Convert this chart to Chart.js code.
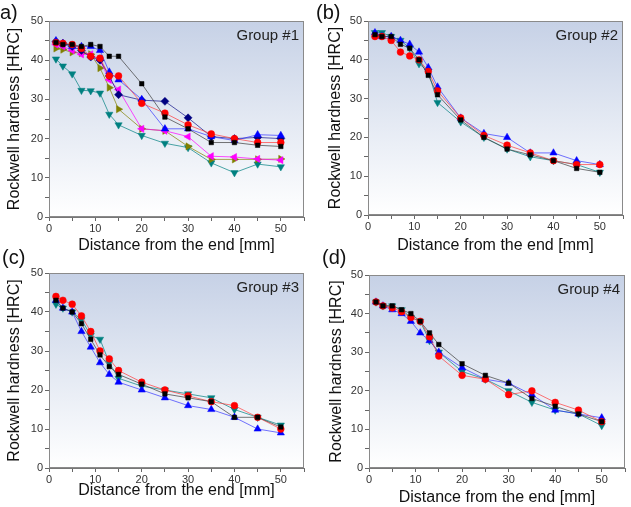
<!DOCTYPE html>
<html>
<head>
<meta charset="utf-8">
<script src="https://cdn.jsdelivr.net/npm/chart.js@4/dist/chart.umd.min.js"></script>
<style>
  body { margin: 0; background: #fff; }
  #wrap { position: relative; width: 631px; height: 507px; overflow: hidden; font-family: "Liberation Sans", Arial, sans-serif; }
  canvas { position: absolute; }
  .lbl { position: absolute; font-size: 20px; color: #111; }
</style>
</head>
<body>
<div id="wrap">
  <canvas id="ca"></canvas>
  <canvas id="cb"></canvas>
  <canvas id="cc"></canvas>
  <canvas id="cd"></canvas>
  <div class="lbl" style="left:0px;top:1px">a)</div>
  <div class="lbl" style="left:316px;top:1px">(b)</div>
  <div class="lbl" style="left:2px;top:246px">(c)</div>
  <div class="lbl" style="left:322px;top:246px">(d)</div>
</div>
<script>
// distance from the end [mm]
var dist = [1.5, 3, 5, 7, 9, 11, 13, 15, 20, 25, 30, 35, 40, 45, 50];

// Group #1
var g1Black   = [44.5, 44, 44, 43.5, 44, 43.5, 41, 41, 34, 25.5, 22.5, 19, 19, 18.3, 18];
var g1Red     = [44.5, 44.3, 44, 43, 41, 40.5, 36, 36, 29, 26.5, 23.5, 21.2, 20, 19, 19];
var g1Blue    = [45, 44.3, 43.5, 43.5, 43.5, 42.5, 37, 35, 30, 22.5, 22.5, 20.5, 19.5, 21, 20.8];
var g1Navy    = [44.8, 44.3, 43.5, 42.5, 40.8, 40, 36, 31.2, 29.8, 29.5, 25.3, 20.5, 20, 20.3, 20];
var g1Magenta = [44, 43.5, 42.5, 41.5, 41.5, 40, 35, 32.5, 22.5, 22, 20.5, 15.5, 15.3, 14.8, 14.5];
var g1Olive   = [43, 42.7, 42, 41.8, 41.5, 38, 33, 27.5, 22.5, 22, 18, 14.7, 14.7, 14.7, 14.8];
var g1Teal    = [40.3, 38.5, 36.5, 32.3, 32.2, 31.6, 26.2, 23.5, 20.8, 18.8, 17.7, 13.8, 11.3, 13.5, 12.8];

// Group #2
var g2Black = [46.5, 46, 46, 44, 43, 40, 36, 31, 24.5, 20, 17, 15.5, 14, 12, 11];
var g2Red   = [46, 46, 45, 42, 41, 40, 37, 32, 25, 20.5, 18, 16, 14, 13, 13];
var g2Blue  = [47, 46, 46, 45, 44, 42, 38, 33, 25, 21, 20, 16, 16, 14, 13];
var g2Teal  = [47, 47, 46, 45, 43, 39, 37, 29, 24, 20, 17, 15, 14, 13, 11];

// Group #3
var g3Black = [43, 41, 40, 37, 33, 29, 26, 24, 21.5, 19, 18, 17, 13, 13, 10.5];
var g3Red   = [44, 43, 42, 39, 35, 30, 28, 25, 22, 20, 18.5, 17, 16, 13, 10];
var g3Blue  = [43, 41, 40, 35, 31, 27, 24, 22, 20, 18, 16, 15, 13, 10, 9];
var g3Teal  = [42, 41, 40, 38, 34, 33, 27, 23, 21, 20, 19, 18, 15, 13, 11];

// Group #4
var g4Black = [43, 42, 42, 41, 40, 38, 35, 32, 27, 24, 22, 18, 16, 14, 12];
var g4Red   = [43, 42, 41.5, 40.5, 39, 38, 34, 29, 24, 23, 19, 20, 17, 15, 12];
var g4Blue  = [43, 42, 41, 40, 38, 35, 33, 30, 26, 23, 22, 19, 15, 14, 13];
var g4Teal  = [43, 42, 42, 41, 39, 38, 33, 30, 25, 23, 20, 17, 15, 14, 11];

var yTicks = [0, 10, 20, 30, 40, 50];
var xTicks = [0, 10, 20, 30, 40, 50];

function pts(ys) {
    return dist.map(function(x, i) { return {x: x, y: ys[i]}; });
}

// marker styles
var styles = {
    black:   {c: '#000000', line: 'rgba(60,60,60,0.7)',    p: 'rect',     r: 3.2, rot: 0},
    red:     {c: '#ff0000', line: 'rgba(255,60,60,0.7)',   p: 'circle',   r: 3.4, rot: 0},
    blue:    {c: '#0000ff', line: 'rgba(40,40,255,0.65)',  p: 'triangle', r: 4.2, rot: 0},
    navy:    {c: '#000080', line: 'rgba(0,0,128,0.65)',    p: 'rectRot',  r: 4,   rot: 0},
    magenta: {c: '#ff00ff', line: 'rgba(255,0,255,0.7)',   p: 'triangle', r: 4.2, rot: -90},
    olive:   {c: '#808000', line: 'rgba(128,128,0,0.7)',   p: 'triangle', r: 4.2, rot: 90},
    teal:    {c: '#008080', line: 'rgba(0,128,128,0.7)',   p: 'triangle', r: 4.2, rot: 180}
};

function ds(name, ys) {
    var s = styles[name];
    return {
        label: name,
        data: pts(ys),
        showLine: true,
        borderColor: s.line,
        borderWidth: 1,
        backgroundColor: s.c,
        pointBackgroundColor: s.c,
        pointBorderColor: s.c,
        pointBorderWidth: 0.5,
        pointStyle: s.p,
        pointRadius: s.r,
        pointRotation: s.rot
    };
}

var panelPlugin = {
    id: 'panel',
    beforeDraw: function(chart) {
        var a = chart.chartArea, ctx = chart.ctx;
        var g = ctx.createLinearGradient(0, a.top, 0, a.bottom);
        g.addColorStop(0, '#c6d1e6');
        g.addColorStop(0.55, '#e6ebf4');
        g.addColorStop(1, '#ffffff');
        ctx.save();
        ctx.fillStyle = g;
        ctx.fillRect(a.left, a.top, a.right - a.left, a.bottom - a.top);
        ctx.restore();
    },
    afterDraw: function(chart) {
        var a = chart.chartArea, ctx = chart.ctx;
        ctx.save();
        ctx.strokeStyle = '#8a8a8a';
        ctx.lineWidth = 1;
        ctx.strokeRect(a.left + 0.5, a.top + 0.5, a.right - a.left - 1, a.bottom - a.top - 1);
        ctx.fillStyle = '#222';
        ctx.font = '15px "Liberation Sans", Arial, sans-serif';
        ctx.textAlign = 'right';
        ctx.textBaseline = 'alphabetic';
        ctx.fillText(chart.options.plugins.panel.group, a.right - 5, a.top + 19);
        ctx.restore();
    }
};

function makePanel(id, box, area, yTitlePad, xTitlePad, group, sets) {
    var cv = document.getElementById(id);
    cv.style.left = box.x + 'px';
    cv.style.top = box.y + 'px';
    cv.style.width = box.w + 'px';
    cv.style.height = box.h + 'px';
    cv.width = box.w;
    cv.height = box.h;
    var yw = area.l - box.x;
    var xh = box.y + box.h - area.b;
    return new Chart(cv, {
        type: 'scatter',
        data: {datasets: sets},
        options: {
            responsive: false,
            animation: false,
            layout: {padding: {left: 0, top: area.t - box.y, right: box.x + box.w - area.r, bottom: 0}},
            plugins: {legend: {display: false}, tooltip: {enabled: false}, panel: {group: group}},
            scales: {
                x: {
                    type: 'linear', min: 0, max: 55,
                    afterFit: function(s) { s.height = xh; },
                    ticks: {
                        stepSize: 5, color: '#333', padding: 1,
                        font: {size: 11, family: '"Liberation Sans", Arial, sans-serif'},
                        maxRotation: 0, autoSkip: false,
                        callback: function(v) { return xTicks.indexOf(v) >= 0 ? String(v) : ''; }
                    },
                    grid: {drawOnChartArea: false, drawTicks: true, tickLength: 4, tickColor: '#666'},
                    border: {display: true, color: '#777'},
                    title: {display: true, text: 'Distance from the end [mm]', color: '#111',
                        font: {size: 16, family: '"Liberation Sans", Arial, sans-serif'},
                        padding: {top: 0, bottom: xTitlePad}}
                },
                y: {
                    type: 'linear', min: 0, max: 50,
                    afterFit: function(s) { s.width = yw; },
                    ticks: {
                        stepSize: 5, color: '#333', padding: 2,
                        font: {size: 11, family: '"Liberation Sans", Arial, sans-serif'},
                        callback: function(v) { return yTicks.indexOf(v) >= 0 ? String(v) : ''; }
                    },
                    grid: {drawOnChartArea: false, drawTicks: true, tickLength: 4, tickColor: '#666'},
                    border: {display: true, color: '#777'},
                    title: {display: true, text: 'Rockwell hardness [HRC]', color: '#111',
                        font: {size: 16, family: '"Liberation Sans", Arial, sans-serif'},
                        padding: {top: yTitlePad, bottom: 0}}
                }
            }
        },
        plugins: [panelPlugin]
    });
}

makePanel('ca', {x: 0, y: 0, w: 316, h: 256}, {l: 49, t: 21, r: 304, b: 217}, 5, 1, 'Group #1', [
    ds('black', g1Black), ds('red', g1Red), ds('blue', g1Blue), ds('navy', g1Navy),
    ds('magenta', g1Magenta), ds('olive', g1Olive), ds('teal', g1Teal)
]);
makePanel('cb', {x: 316, y: 0, w: 315, h: 256}, {l: 368, t: 21, r: 623, b: 215}, 10, 1, 'Group #2', [
    ds('black', g2Black), ds('red', g2Red), ds('blue', g2Blue), ds('teal', g2Teal)
]);
makePanel('cc', {x: 0, y: 250, w: 316, h: 257}, {l: 49, t: 273, r: 304, b: 468}, 5, 7, 'Group #3', [
    ds('black', g3Black), ds('red', g3Red), ds('blue', g3Blue), ds('teal', g3Teal)
]);
makePanel('cd', {x: 316, y: 250, w: 315, h: 257}, {l: 369, t: 275, r: 625, b: 468}, 11, 0, 'Group #4', [
    ds('black', g4Black), ds('red', g4Red), ds('blue', g4Blue), ds('teal', g4Teal)
]);
</script>
</body>
</html>
